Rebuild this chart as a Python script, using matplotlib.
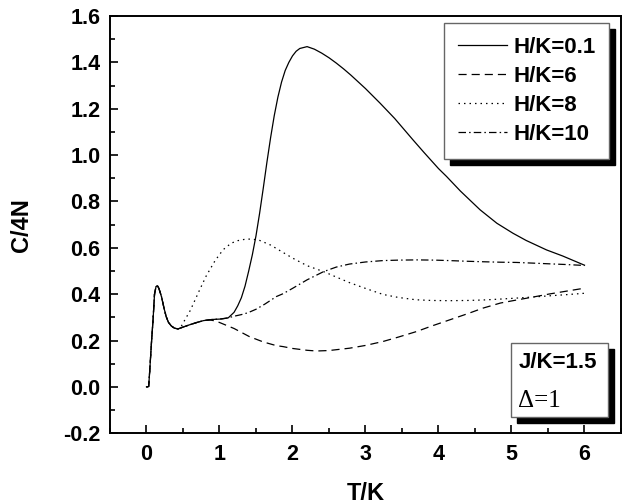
import matplotlib
matplotlib.use("Agg")
import matplotlib.pyplot as plt
from matplotlib.patches import Rectangle
from matplotlib.ticker import MultipleLocator

# shared low-temperature part (all fields coincide here)
t_low = [0.00, 0.03, 0.045, 0.07, 0.09, 0.11, 0.13, 0.15, 0.17, 0.205, 0.24, 0.27,
         0.30, 0.34, 0.38, 0.43]
c_low = [0.000, 0.002, 0.073, 0.20, 0.29, 0.40, 0.432, 0.437, 0.425, 0.39, 0.34, 0.303,
         0.279, 0.263, 0.254, 0.250]

# H/K = 0.1
t_h01 = [0.50, 0.59, 0.70, 0.78, 0.90, 0.96, 1.03, 1.12, 1.20, 1.25, 1.30, 1.35, 1.40,
         1.45, 1.50, 1.55, 1.60, 1.65, 1.70, 1.75, 1.80, 1.85, 1.90, 1.95, 2.00, 2.05,
         2.10, 2.20, 2.30, 2.40, 2.50, 2.60, 2.70, 2.80, 2.90, 3.00, 3.20, 3.40, 3.65,
         3.80, 4.00, 4.11, 4.30, 4.57, 4.80, 5.02, 5.20, 5.48, 5.70, 5.85, 6.00]
c_h01 = [0.258, 0.268, 0.279, 0.286, 0.291, 0.292, 0.293, 0.298, 0.322, 0.350, 0.385,
         0.435, 0.500, 0.570, 0.652, 0.750, 0.858, 0.970, 1.075, 1.170, 1.250, 1.315,
         1.365, 1.400, 1.428, 1.448, 1.460, 1.468, 1.457, 1.440, 1.420, 1.397, 1.372,
         1.345, 1.316, 1.287, 1.224, 1.158, 1.066, 1.012, 0.942, 0.908, 0.845, 0.764,
         0.706, 0.663, 0.632, 0.591, 0.565, 0.545, 0.525]

# H/K = 6
t_h6 = [0.50, 0.59, 0.70, 0.78, 0.87, 0.95, 1.00, 1.10, 1.20, 1.41, 1.60, 1.78, 1.87,
        2.00, 2.20, 2.33, 2.50, 2.78, 3.00, 3.24, 3.45, 3.70, 3.90, 4.15, 4.40, 4.61,
        4.85, 5.07, 5.30, 5.52, 5.75, 6.00]
c_h6 = [0.258, 0.268, 0.279, 0.286, 0.289, 0.284, 0.278, 0.265, 0.252, 0.217, 0.194,
        0.178, 0.174, 0.166, 0.158, 0.155, 0.157, 0.167, 0.179, 0.196, 0.215, 0.239,
        0.262, 0.289, 0.316, 0.340, 0.362, 0.375, 0.388, 0.401, 0.413, 0.426]

# H/K = 8
t_h8 = [0.46, 0.50, 0.60, 0.73, 0.82, 0.94, 1.05, 1.16, 1.25, 1.35, 1.44, 1.55, 1.70,
        1.85, 2.00, 2.20, 2.43, 2.60, 2.78, 3.00, 3.24, 3.45, 3.69, 3.90, 4.15, 4.40,
        4.61, 4.85, 5.06, 5.30, 5.52, 5.75, 6.00]
c_h8 = [0.252, 0.275, 0.33, 0.42, 0.48, 0.545, 0.592, 0.620, 0.631, 0.637, 0.638, 0.632,
        0.612, 0.584, 0.556, 0.523, 0.497, 0.474, 0.450, 0.425, 0.399, 0.386, 0.376,
        0.373, 0.372, 0.373, 0.375, 0.379, 0.383, 0.388, 0.393, 0.398, 0.404]

# H/K = 10
t_h10 = [0.50, 0.59, 0.70, 0.78, 0.90, 0.96, 1.03, 1.12, 1.20, 1.30, 1.39, 1.50, 1.62,
         1.78, 1.87, 2.00, 2.20, 2.43, 2.60, 2.78, 3.00, 3.24, 3.45, 3.70, 3.95, 4.15,
         4.40, 4.61, 4.85, 5.07, 5.30, 5.52, 5.75, 6.00]
c_h10 = [0.258, 0.268, 0.279, 0.286, 0.291, 0.292, 0.294, 0.298, 0.305, 0.312, 0.320,
         0.335, 0.357, 0.390, 0.402, 0.425, 0.462, 0.498, 0.517, 0.530, 0.539, 0.545,
         0.547, 0.548, 0.547, 0.545, 0.542, 0.540, 0.538, 0.537, 0.534, 0.531, 0.528,
         0.524]

labels = ["H/K=0.1", "H/K=6", "H/K=8", "H/K=10"]
series = [(t_h01, c_h01), (t_h6, c_h6), (t_h8, c_h8), (t_h10, c_h10)]
dashes = [None, (6.5, 4), (1.2, 3.2), (6, 2.5, 1.2, 2.5)]

plt.rcParams["font.family"] = ["Liberation Sans", "DejaVu Sans"]
plt.rcParams["font.weight"] = "bold"

fig = plt.figure(figsize=(6.26, 5.04), dpi=100)
ax = fig.add_axes([0.1757, 0.1403, 0.8163, 0.8279])

for (t, c), lab, d in zip(series, labels, dashes):
    tt = t_low + t
    cc = c_low + c
    if d is None:
        ax.plot(tt, cc, color="black", lw=0.9, label=lab)
    else:
        ax.plot(tt, cc, color="black", lw=0.9, dashes=d, label=lab)

ax.set_xlim(-0.5, 6.5)
ax.set_ylim(-0.2, 1.6)
ax.xaxis.set_major_locator(MultipleLocator(1))
ax.xaxis.set_minor_locator(MultipleLocator(0.5))
ax.yaxis.set_major_locator(MultipleLocator(0.2))
ax.yaxis.set_minor_locator(MultipleLocator(0.1))
ax.yaxis.set_major_formatter(plt.FuncFormatter(lambda v, p: f"{v:.1f}"))

ax.tick_params(which="both", direction="in", top=False, right=False, width=1.2)
ax.tick_params(which="major", length=6)
ax.tick_params(which="minor", length=3.5)
ax.tick_params(axis="x", labelsize=15.5, pad=8)
ax.tick_params(axis="y", labelsize=15.5, pad=7)
for s in ax.spines.values():
    s.set_linewidth(1.4)

ax.set_xlabel("T/K", fontsize=17, fontweight="bold", va="baseline")
ax.set_ylabel("C/4N", fontsize=17, fontweight="bold")
ax.xaxis.set_label_coords(0.5, -0.160)
ax.yaxis.set_label_coords(-0.151, 0.5)

leg = ax.legend(loc="upper right", bbox_to_anchor=(0.977, 0.983), fontsize=16,
                frameon=True, fancybox=False, edgecolor="#666666",
                handlelength=2.2, handletextpad=0.3, labelspacing=0.36,
                borderpad=0.62, borderaxespad=0,
                shadow={"ox": 4.5, "oy": -4.5, "color": "black", "alpha": 1})
leg.get_frame().set_linewidth(1.0)
leg.get_frame().set_alpha(1)

# J/K and Delta box with shadow
bx, by, bw, bh = 0.784, 0.040, 0.191, 0.177
ax.add_patch(Rectangle((bx + 0.0117, by - 0.0144), bw, bh, transform=ax.transAxes,
                       facecolor="black", edgecolor="black", zorder=5))
ax.add_patch(Rectangle((bx, by), bw, bh, transform=ax.transAxes,
                       facecolor="white", edgecolor="#666666", lw=1.0, zorder=6))
ax.text(0.799, 0.156, "J/K=1.5", transform=ax.transAxes, fontsize=16,
        fontweight="bold", va="baseline", zorder=7)
ax.text(0.799, 0.064, "\u0394=1", transform=ax.transAxes, fontsize=18,
        family=["Liberation Serif", "DejaVu Serif"], fontweight="normal",
        va="baseline", zorder=7)

fig.savefig("out.png", dpi=100)
